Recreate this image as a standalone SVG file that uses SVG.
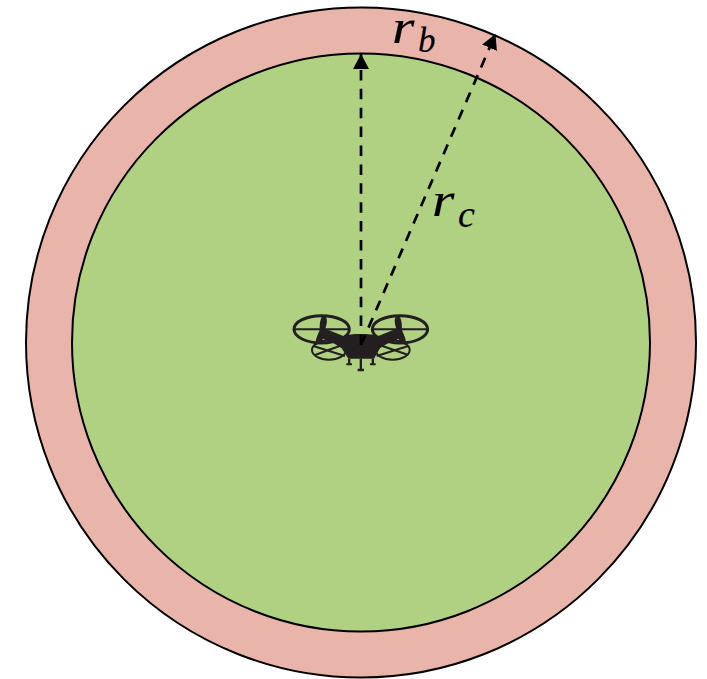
<svg xmlns="http://www.w3.org/2000/svg" width="707" height="679" viewBox="0 0 707 679">
<style>
.c{stroke:#000;stroke-width:2}
.d{stroke:#000;stroke-width:2.7;stroke-dasharray:10.5 8.4;fill:none}
.t{font-family:"Liberation Serif",serif;font-style:italic;fill:#000;stroke:#000;stroke-width:.15}
.p{fill:none;stroke:#231f20;stroke-width:9}
.q{fill:none;stroke:#231f20;stroke-width:6}
.b{fill:#231f20}
</style>
<defs><marker id="a" markerUnits="userSpaceOnUse" markerWidth="16" markerHeight="18" refX="15" refY="9" orient="auto"><path d="M0 1L15 9L0 17Z" fill="#000"/></marker></defs>
<g id="outer-circle"><circle class="c" cx="361" cy="342.500" r="335" fill="#e9b5ab"/></g>
<g id="inner-circle"><circle class="c" cx="361" cy="342.500" r="289" fill="#b0d082"/></g>
<g id="drone" transform="translate(280 300) scale(.3333)">
<ellipse class="p" cx="125" cy="88" rx="83" ry="41"/>
<ellipse class="p" cx="360" cy="88" rx="83" ry="41"/>
<ellipse class="q" cx="147" cy="150" rx="51" ry="29"/>
<ellipse class="q" cx="338" cy="150" rx="51" ry="29"/>
<path class="q" d="M42 88H210M275 88H445"/>
<path class="q" d="M100 138L195 168M195 132L105 165M290 168L385 138M290 132L385 165"/>
<path class="b" d="M132 44C144 52 142 68 136 86L190 108C210 100 275 100 295 108L349 86C343 68 341 52 353 44C365 52 366 70 366 90C372 105 380 120 378 136L362 128L356 116L320 132L300 145L282 176H205L185 145L165 132L129 116L123 128L107 136C105 120 113 105 119 90C119 70 120 52 132 44Z"/>
<path class="b" d="M204 176h7v14h5v6h-17v-6h5zM275 176h7v14h5v6h-17v-6h5zM239 176h7v30h6v8h-19v-8h6z"/>
</g>
<g id="connectors">
<path class="d" d="M361 345V54" marker-end="url(#a)"/>
<path class="d" d="M361 345L495.500 34" marker-end="url(#a)"/>
</g>
<g id="label-rb"><text class="t" transform="translate(392 43) scale(1.2 1)" font-size="48">r</text><text class="t" x="418" y="52" font-size="35">b</text></g>
<g id="label-rc"><text class="t" transform="translate(432 216) scale(1.2 1)" font-size="48">r</text><text class="t" x="458" y="227" font-size="38">c</text></g>
</svg>
